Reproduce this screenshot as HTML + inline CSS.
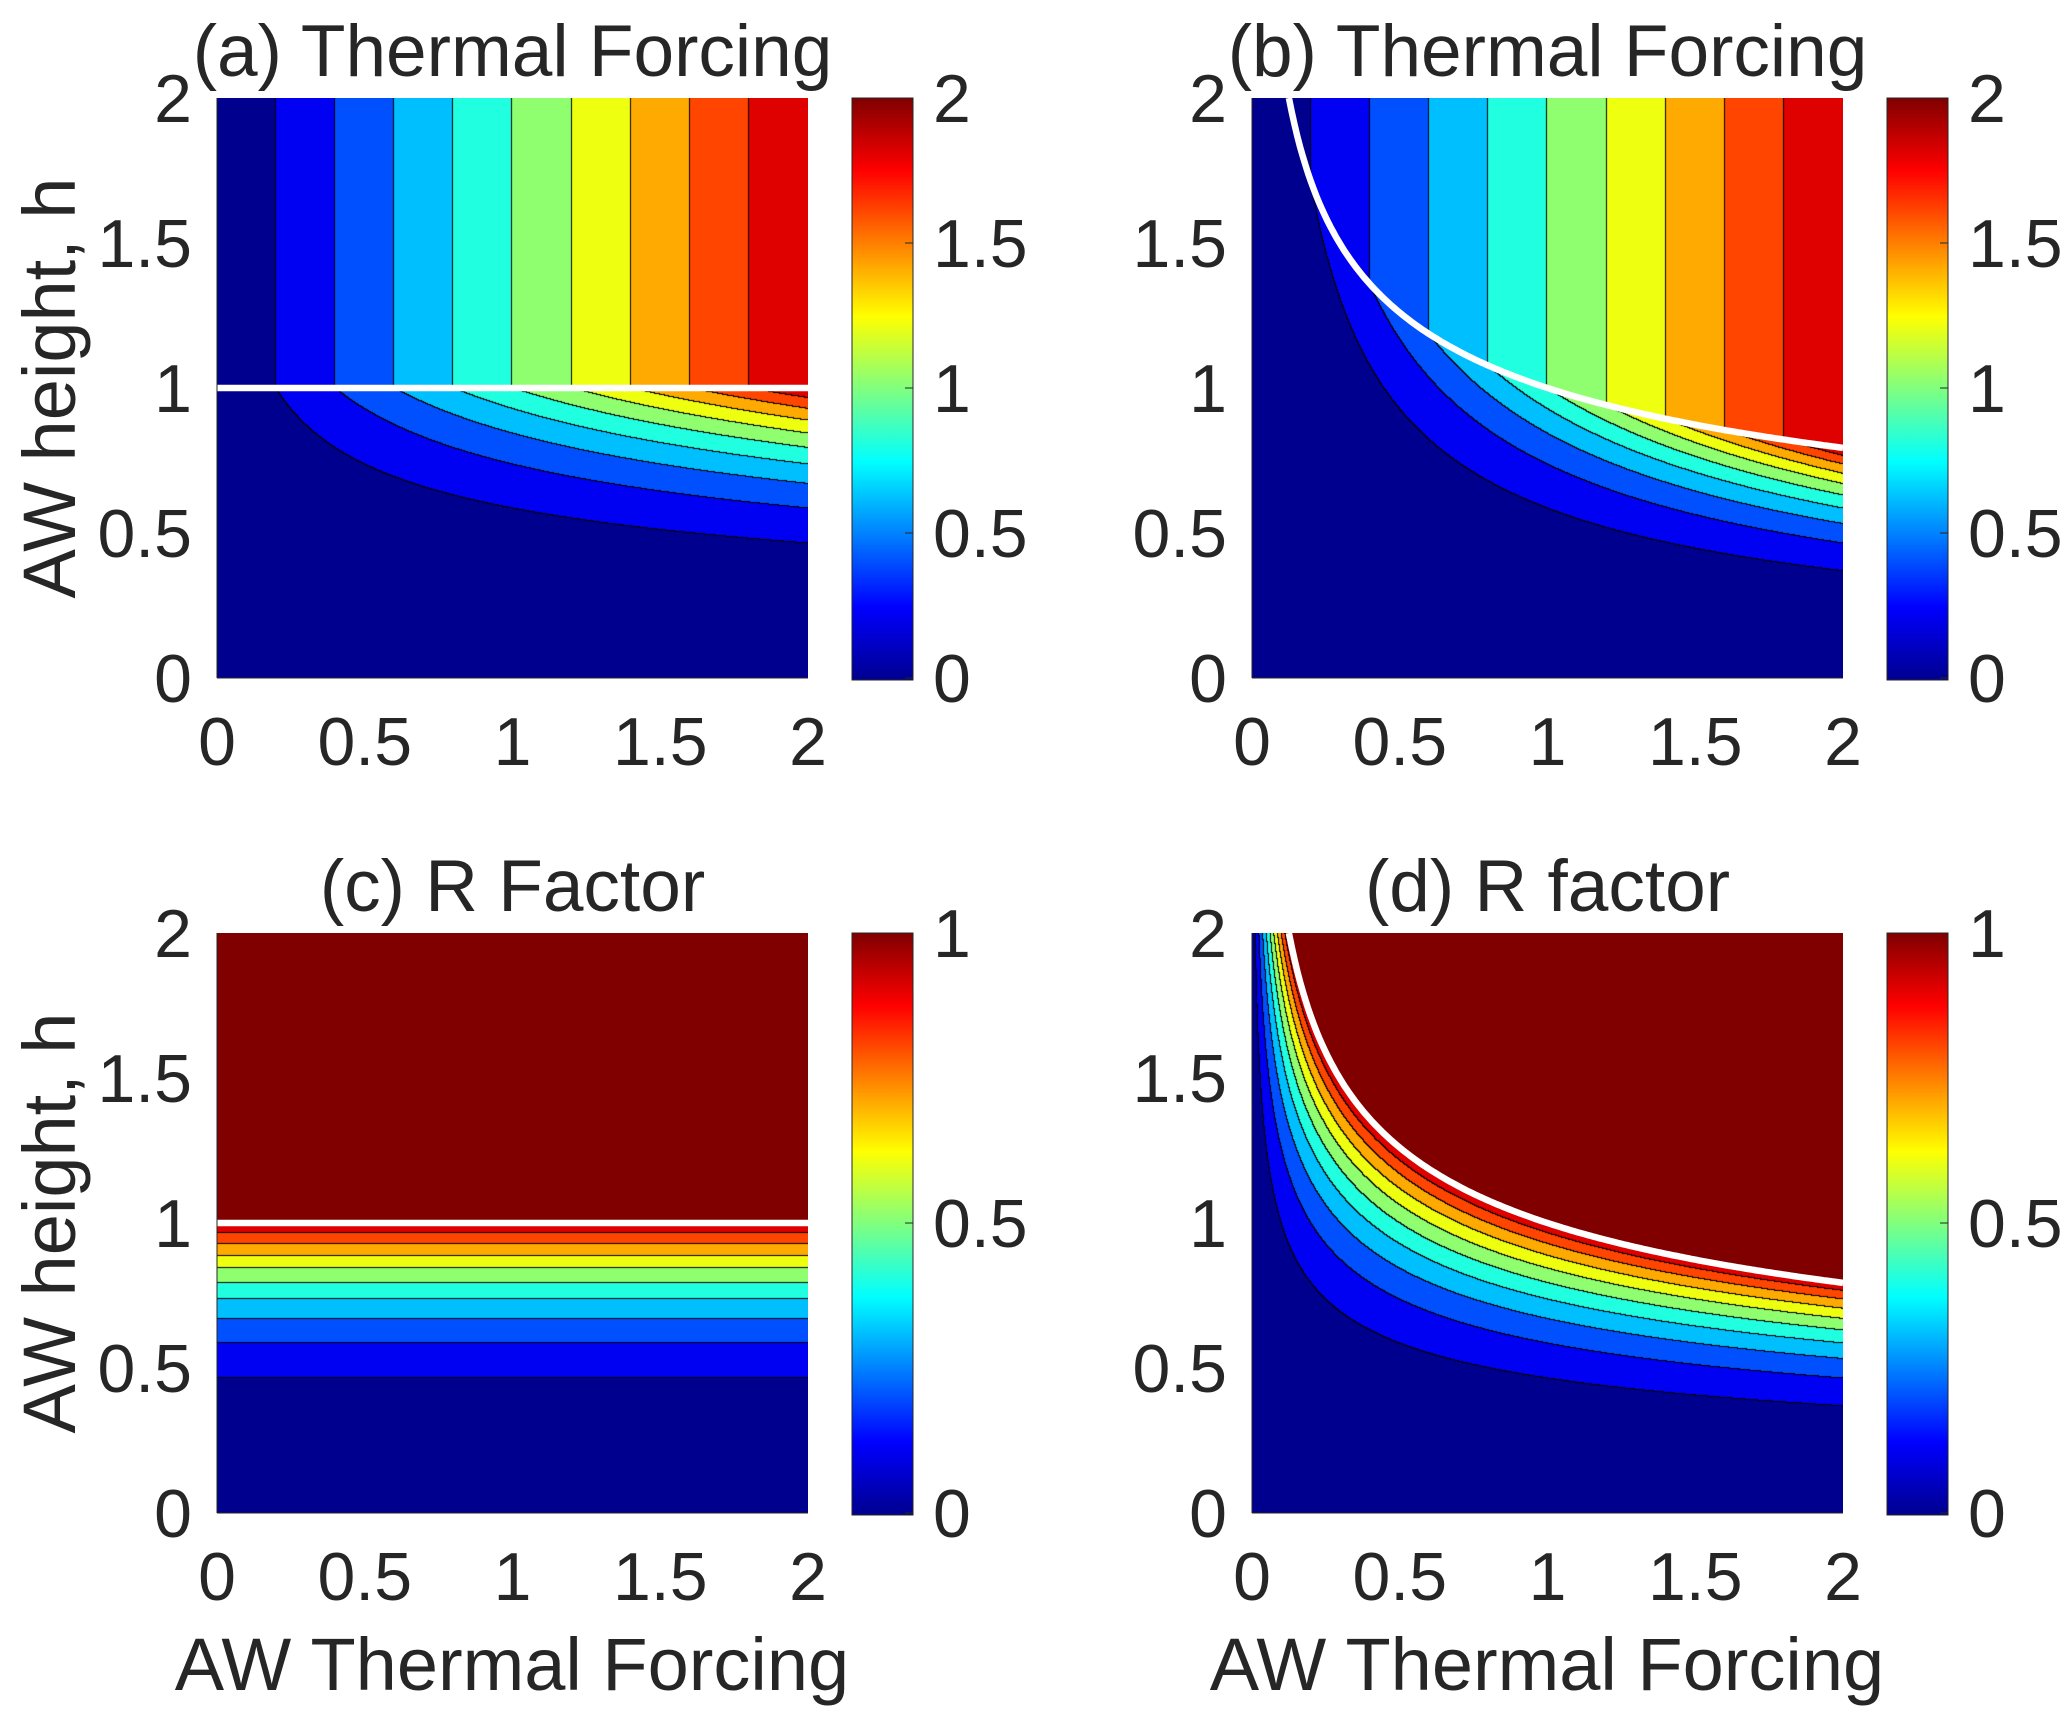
<!DOCTYPE html>
<html><head><meta charset="utf-8"><style>
html,body{margin:0;padding:0;background:#fff;}
#root{position:relative;width:2067px;height:1724px;overflow:hidden;font-family:"Liberation Sans",Arial,sans-serif;}
canvas{position:absolute;}
svg{position:absolute;left:0;top:0;}
text{fill:#262626;font-family:"Liberation Sans",Arial,sans-serif;}
</style></head><body>
<div id="root">
<svg id="ov" width="2067" height="1724"></svg>
</div>
<script>
// ---- data ----
const X_TICKS=[0,0.5,1,1.5,2];
const X_TICK_LABELS=['0','0.5','1','1.5','2'];
const Y_TICKS=[0,0.5,1,1.5,2];
const Y_TICK_LABELS=['0','0.5','1','1.5','2'];
const TF_LEVELS=[0,0.2,0.4,0.6,0.8,1.0,1.2,1.4,1.6,1.8,2.0];
const R_LEVELS=[0,0.1,0.2,0.3,0.4,0.5,0.6,0.7,0.8,0.9,1.0];
const BAND_COLORS=['#00008f','#0000f2','#0050ff','#00bfff','#20ffdf','#8fff70','#efff10','#ffaa00','#ff4500','#df0000','#800000'];
const CB_TICKS_TF=[0,0.5,1,1.5,2];
const CB_TICKS_R=[0,0.5,1];
const CB_LABELS_TF=['0','0.5','1','1.5','2'];
const CB_LABELS_R=['0','0.5','1'];
const TITLES=['(a) Thermal Forcing','(b) Thermal Forcing','(c) R Factor','(d) R factor'];

const PANELS=[
 {id:'a',x0:217,y0:98,cb:852,levels:TF_LEVELS,cbT:CB_TICKS_TF,cbL:CB_LABELS_TF,vmax:2,
  f:(x,h)=>h>=1?x:x*h*h*h, curve:false},
 {id:'b',x0:1252,y0:98,cb:1887,levels:TF_LEVELS,cbT:CB_TICKS_TF,cbL:CB_LABELS_TF,vmax:2,
  f:(x,h)=>x*Math.min(1,x*h*h*h), curve:true},
 {id:'c',x0:217,y0:933,cb:852,levels:R_LEVELS,cbT:CB_TICKS_R,cbL:CB_LABELS_R,vmax:1,
  f:(x,h)=>h>=1?1:h*h*h, curve:false},
 {id:'d',x0:1252,y0:933,cb:1887,levels:R_LEVELS,cbT:CB_TICKS_R,cbL:CB_LABELS_R,vmax:1,
  f:(x,h)=>Math.min(1,x*h*h*h), curve:true}
];
const W=591,H=580,CBW=61;
const root=document.getElementById('root');
const ov=document.getElementById('ov');
const NS='http://www.w3.org/2000/svg';
function mk(tag,attrs,parent){const e=document.createElementNS(NS,tag);for(const k in attrs)e.setAttribute(k,attrs[k]);(parent||ov).appendChild(e);return e;}
function band(v,levels){const n=levels.length-1;if(v>=levels[n]-1e-9)return n;let i=0;while(i<n&&v>=levels[i+1]-1e-9)i++;return i;}
function rgb(hex){return [parseInt(hex.substr(1,2),16),parseInt(hex.substr(3,2),16),parseInt(hex.substr(5,2),16)];}
const BC=BAND_COLORS.map(rgb);

PANELS.forEach((p,pi)=>{
 const sx=v=>p.x0+v/2*W, sy=v=>p.y0+H-v/2*H;
 const cv=document.createElement('canvas');cv.width=W;cv.height=H;
 cv.style.left=p.x0+'px';cv.style.top=p.y0+'px';
 
 
 root.insertBefore(cv,ov);
 const ctx=cv.getContext('2d');const img=ctx.createImageData(W,H);
 const idx=new Int16Array(W*H);
 for(let py=0;py<H;py++)for(let px=0;px<W;px++){
  const x=(px+0.5)/W*2,h=(H-py-0.5)/H*2;
  idx[py*W+px]=band(p.f(x,h),p.levels);
 }
 for(let py=0;py<H;py++)for(let px=0;px<W;px++){
  const i=py*W+px;let c=BC[idx[i]];
  if((px<W-1&&idx[i+1]!==idx[i])||(py<H-1&&idx[i+W]!==idx[i]))c=[0,0,0];
  img.data[i*4]=c[0];img.data[i*4+1]=c[1];img.data[i*4+2]=c[2];img.data[i*4+3]=255;
 }
 ctx.putImageData(img,0,0);
 const g=mk('g',{});
 
 
 let d='';
 if(!p.curve){d='M'+sx(0)+' '+sy(1)+' L'+sx(2)+' '+sy(1);}
 else{for(let k=0;k<=200;k++){const x=0.125+(2-0.125)*k/200;const h=Math.pow(x,-1/3);d+=(k?'L':'M')+sx(x).toFixed(1)+' '+sy(Math.min(h,2)).toFixed(1);}}
 const wl=mk('path',{d:d,stroke:'#fff','stroke-width':6.5,fill:'none'},g);
 
 
 mk('line',{x1:p.x0,y1:p.y0,x2:p.x0,y2:p.y0+H,stroke:'#262626','stroke-width':1},g);
 mk('line',{x1:p.x0,y1:p.y0+H,x2:p.x0+W,y2:p.y0+H,stroke:'#262626','stroke-width':1},g);
 X_TICKS.forEach((t,i)=>{
  const e=mk('text',{x:sx(t),y:p.y0+H+87,'font-size':68,'text-anchor':'middle'},g);e.textContent=X_TICK_LABELS[i];
  
  
 });
 Y_TICKS.forEach((t,i)=>{
  const e=mk('text',{x:p.x0-25,y:sy(t)+24,'font-size':68,'text-anchor':'end'},g);e.textContent=Y_TICK_LABELS[i];
  
  
 });
 const tt=mk('text',{x:p.x0+W/2,y:p.y0-22,'font-size':73,'text-anchor':'middle'},g);tt.textContent=TITLES[pi];
 
 
 const gid='jet'+p.id;const defs=mk('defs',{},g);
 const lg=mk('linearGradient',{id:gid,x1:0,y1:1,x2:0,y2:0},defs);
 [[0,'#00008f'],[0.125,'#0000ff'],[0.375,'#00ffff'],[0.625,'#ffff00'],[0.875,'#ff0000'],[1,'#800000']].forEach(s=>mk('stop',{offset:s[0],'stop-color':s[1]},lg));
 const cb=mk('rect',{x:p.cb,y:p.y0,width:CBW,height:H+2,fill:'url(#'+gid+')',stroke:'#262626','stroke-width':1},g);
 
 
 p.cbT.forEach((t,i)=>{
  const y=p.y0+H-t/p.vmax*H;
  mk('line',{x1:p.cb+CBW-8,y1:y,x2:p.cb+CBW,y2:y,stroke:'#262626','stroke-width':1},g);
  const e=mk('text',{x:p.cb+CBW+20,y:y+24,'font-size':68},g);e.textContent=p.cbL[i];
  
  
 });
});
[[49,388],[49,1223]].forEach(c=>{
 const e=mk('text',{x:0,y:0,'font-size':74,'text-anchor':'middle',transform:'translate('+(c[0]+26)+','+c[1]+') rotate(-90)'});
 e.textContent='AW height, h';
 
 
});
[512,1547].forEach(cx=>{
 const e=mk('text',{x:cx,y:1690,'font-size':74,'text-anchor':'middle'});
 e.textContent='AW Thermal Forcing';
 
 
});
</script>
</body></html>
